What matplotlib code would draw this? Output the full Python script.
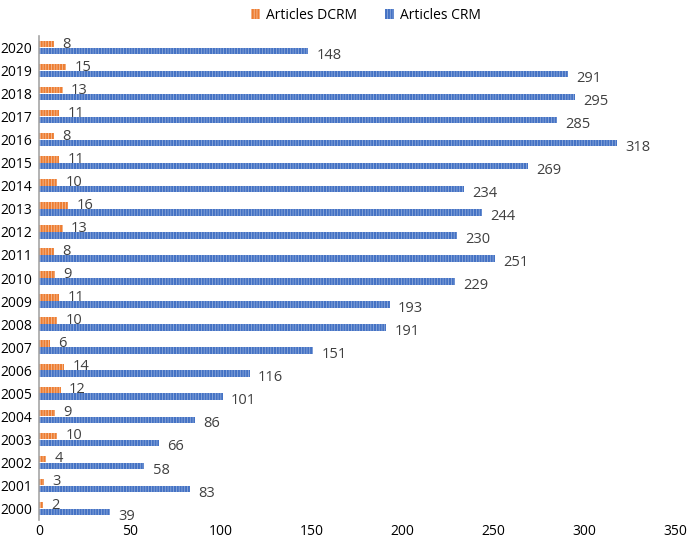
import numpy as np
import matplotlib
matplotlib.use('Agg')
import matplotlib.pyplot as plt

plt.rcParams['font.family'] = ['Open Sans', 'DejaVu Sans']
plt.rcParams['hatch.linewidth'] = 0.5

years = [str(y) for y in range(2000, 2021)]
dcrm = [2, 3, 4, 10, 9, 12, 14, 6, 10, 11, 9, 8, 13, 16, 10, 11, 8, 11, 13, 15, 8]
crm = [39, 83, 58, 66, 86, 101, 116, 151, 191, 193, 229, 251, 230, 244, 234, 269, 318, 285, 295, 291, 148]

orange = '#ED7D31'
blue = '#4472C4'

fig = plt.figure(figsize=(6.9, 5.43), dpi=100)
ax = fig.add_axes([39/690, 23/543, 636/690, 484/543])

y = np.arange(len(years))
h = 0.28
b1 = ax.barh(y + 0.15, dcrm, height=h, color=orange, edgecolor='#F8CBAD',
             hatch='||||||', linewidth=0, label='Articles DCRM')
b2 = ax.barh(y - 0.15, crm, height=h, color=blue, edgecolor='#9DB5E0',
             hatch='||||||', linewidth=0, label='Articles CRM')

for yi, v in zip(y, dcrm):
    ax.annotate(str(v), (v, yi + 0.15), xytext=(6, 0), textcoords='offset points',
                va='center', ha='left', fontsize=10.5, color='#404040')
for yi, v in zip(y, crm):
    ax.annotate(str(v), (v, yi - 0.15), xytext=(6, -3), textcoords='offset points',
                va='center', ha='left', fontsize=10.5, color='#404040')

ax.set_xlim(0, 350)
ax.set_xticks(range(0, 351, 50))
ax.set_ylim(-0.5, 20.5)
ax.set_yticks(y)
ax.set_yticklabels(years)
ax.tick_params(axis='both', length=0, labelsize=10, labelcolor='#000000')
ax.tick_params(axis='x', pad=3)
ax.tick_params(axis='y', pad=5)
for s in ['top', 'right', 'bottom']:
    ax.spines[s].set_visible(False)
ax.spines['left'].set_color('#A6A6A6')
ax.spines['left'].set_linewidth(1.2)

fig.legend(handles=[b1, b2], loc='upper center', bbox_to_anchor=(0.53, 1.008), ncol=2,
           frameon=False, fontsize=10, handlelength=0.7, handleheight=0.7,
           columnspacing=2.0, handletextpad=0.4)

fig.savefig('out.png', dpi=100)
